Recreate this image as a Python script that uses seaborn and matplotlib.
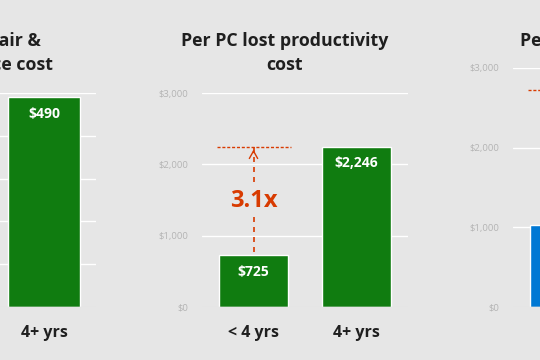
import matplotlib
matplotlib.use("Agg")
import matplotlib.pyplot as plt
import seaborn as sns
import pandas as pd

# ---- data ----
cats = ["< 4 yrs", "4+ yrs"]
left_title = "Per PC repair &\nmaintenance cost"
left_cats = ["4+ yrs"]
left_vals = [490]
mid_title = "Per PC lost productivity\ncost"
mid_vals = [725, 2246]
right_title = "Per PC IT support\ncost"
right_vals = [1030, 2720]

left_ticks = [0, 100, 200, 300, 400, 500]
dollar_ticks = [0, 1000, 2000, 3000]

BG = "#e6e6e6"
GREEN = "#107c10"
BLUE = "#0078d4"
ORANGE = "#d83b01"
FONT = ["Open Sans", "DejaVu Sans"]

sns.set_theme(style="white")
plt.rcParams["font.family"] = FONT
plt.rcParams["figure.facecolor"] = BG
plt.rcParams["axes.facecolor"] = BG

W, H = 540, 360
fig = plt.figure(figsize=(W / 100, H / 100), dpi=100)


def rect(x0, y0, x1, y1):
    return [x0 / W, (H - y1) / H, (x1 - x0) / W, (y1 - y0) / H]


def style(ax, ticks, ylim, show_labels=True):
    ax.set_ylim(*ylim)
    ax.set_yticks(ticks)
    if show_labels:
        ax.set_yticklabels([f"${t:,.0f}" for t in ticks], fontsize=6.8, color="#b4b4b4")
    else:
        ax.set_yticklabels([])
    ax.grid(axis="y", color="white", linewidth=1.0)
    ax.set_axisbelow(True)
    for s in ax.spines.values():
        s.set_visible(False)
    ax.tick_params(axis="both", length=0)
    ax.tick_params(axis="y", pad=10)
    ax.tick_params(axis="x", pad=13)
    for lab in ax.get_xticklabels():
        lab.set_fontsize(11.5)
        lab.set_fontweight("bold")
        lab.set_color("#1f1f1f")
    ax.axhline(0, color="#d2d2d2", linewidth=1.0, zorder=1.5)
    ax.set_xlabel("")
    ax.set_ylabel("")


def value_labels(ax, xs, vals, dy):
    for x, v in zip(xs, vals):
        ax.annotate(f"${v:,.0f}", (x, v), xytext=(0, -dy), textcoords="offset points",
                    ha="center", va="center", color="white", fontsize=10,
                    fontweight="bold")


TITLE_KW = dict(ha="center", va="center", fontsize=12.8, fontweight="bold",
                color="#1f1f1f", linespacing=1.45)

# ---- left panel (cropped) ----
axL = fig.add_axes(rect(-112, 93, 96, 307))
dfL = pd.DataFrame({"cat": left_cats, "val": left_vals})
sns.barplot(data=dfL, x="cat", y="val", color=GREEN, saturation=1, width=0.69, ax=axL)
axL.set_xlim(-1.5, 0.5)
style(axL, left_ticks, (0, 500), show_labels=False)
value_labels(axL, [0], left_vals, 12)
fig.text(-26 / W, 1 - 53 / H, left_title, **TITLE_KW)

# ---- middle panel ----
axM = fig.add_axes(rect(202, 93, 408, 307))
dfM = pd.DataFrame({"cat": cats, "val": mid_vals})
sns.barplot(data=dfM, x="cat", y="val", color=GREEN, saturation=1, width=0.67, ax=axM)
axM.set_xlim(-0.5, 1.5)
style(axM, dollar_ticks, (0, 3000))
value_labels(axM, [0, 1], mid_vals, 12)
fig.text(285 / W, 1 - 53 / H, mid_title, **TITLE_KW)

# annotation
lo, hi = mid_vals
axM.plot([-0.35, 0.36], [hi, hi], color=ORANGE, linestyle=(0, (2.2, 1.3)), linewidth=1.0, zorder=3)
axM.plot([0, 0], [lo + 50, hi], color=ORANGE, linestyle=(0, (3, 3)), linewidth=1.2, zorder=3)
axM.annotate("", xy=(0, hi), xytext=(0, hi - 120),
             arrowprops=dict(arrowstyle="->,head_length=0.45,head_width=0.25", color=ORANGE, lw=1.0))
axM.text(0, (lo + hi) / 2, f"{hi / lo:.1f}x", ha="center", va="center", color=ORANGE,
         fontsize=17, fontweight="bold", zorder=4,
         bbox=dict(boxstyle="square,pad=0.15", facecolor=BG, edgecolor="none"))

# ---- right panel (cropped) ----
axR = fig.add_axes(rect(513, 68, 719, 307))
dfR = pd.DataFrame({"cat": cats, "val": right_vals})
sns.barplot(data=dfR, x="cat", y="val", color=BLUE, saturation=1, width=0.67, ax=axR)
axR.set_xlim(-0.5, 1.5)
style(axR, dollar_ticks, (0, 3000))
axR.set_xticklabels([])
axR.plot([-0.35, 0.36], [right_vals[1]] * 2, color=ORANGE, linestyle=(0, (2.2, 1.3)),
         linewidth=1.0, zorder=3)
fig.text(596 / W, 1 - 53 / H, right_title, **TITLE_KW)

fig.savefig("out.png", dpi=100, facecolor=BG)
